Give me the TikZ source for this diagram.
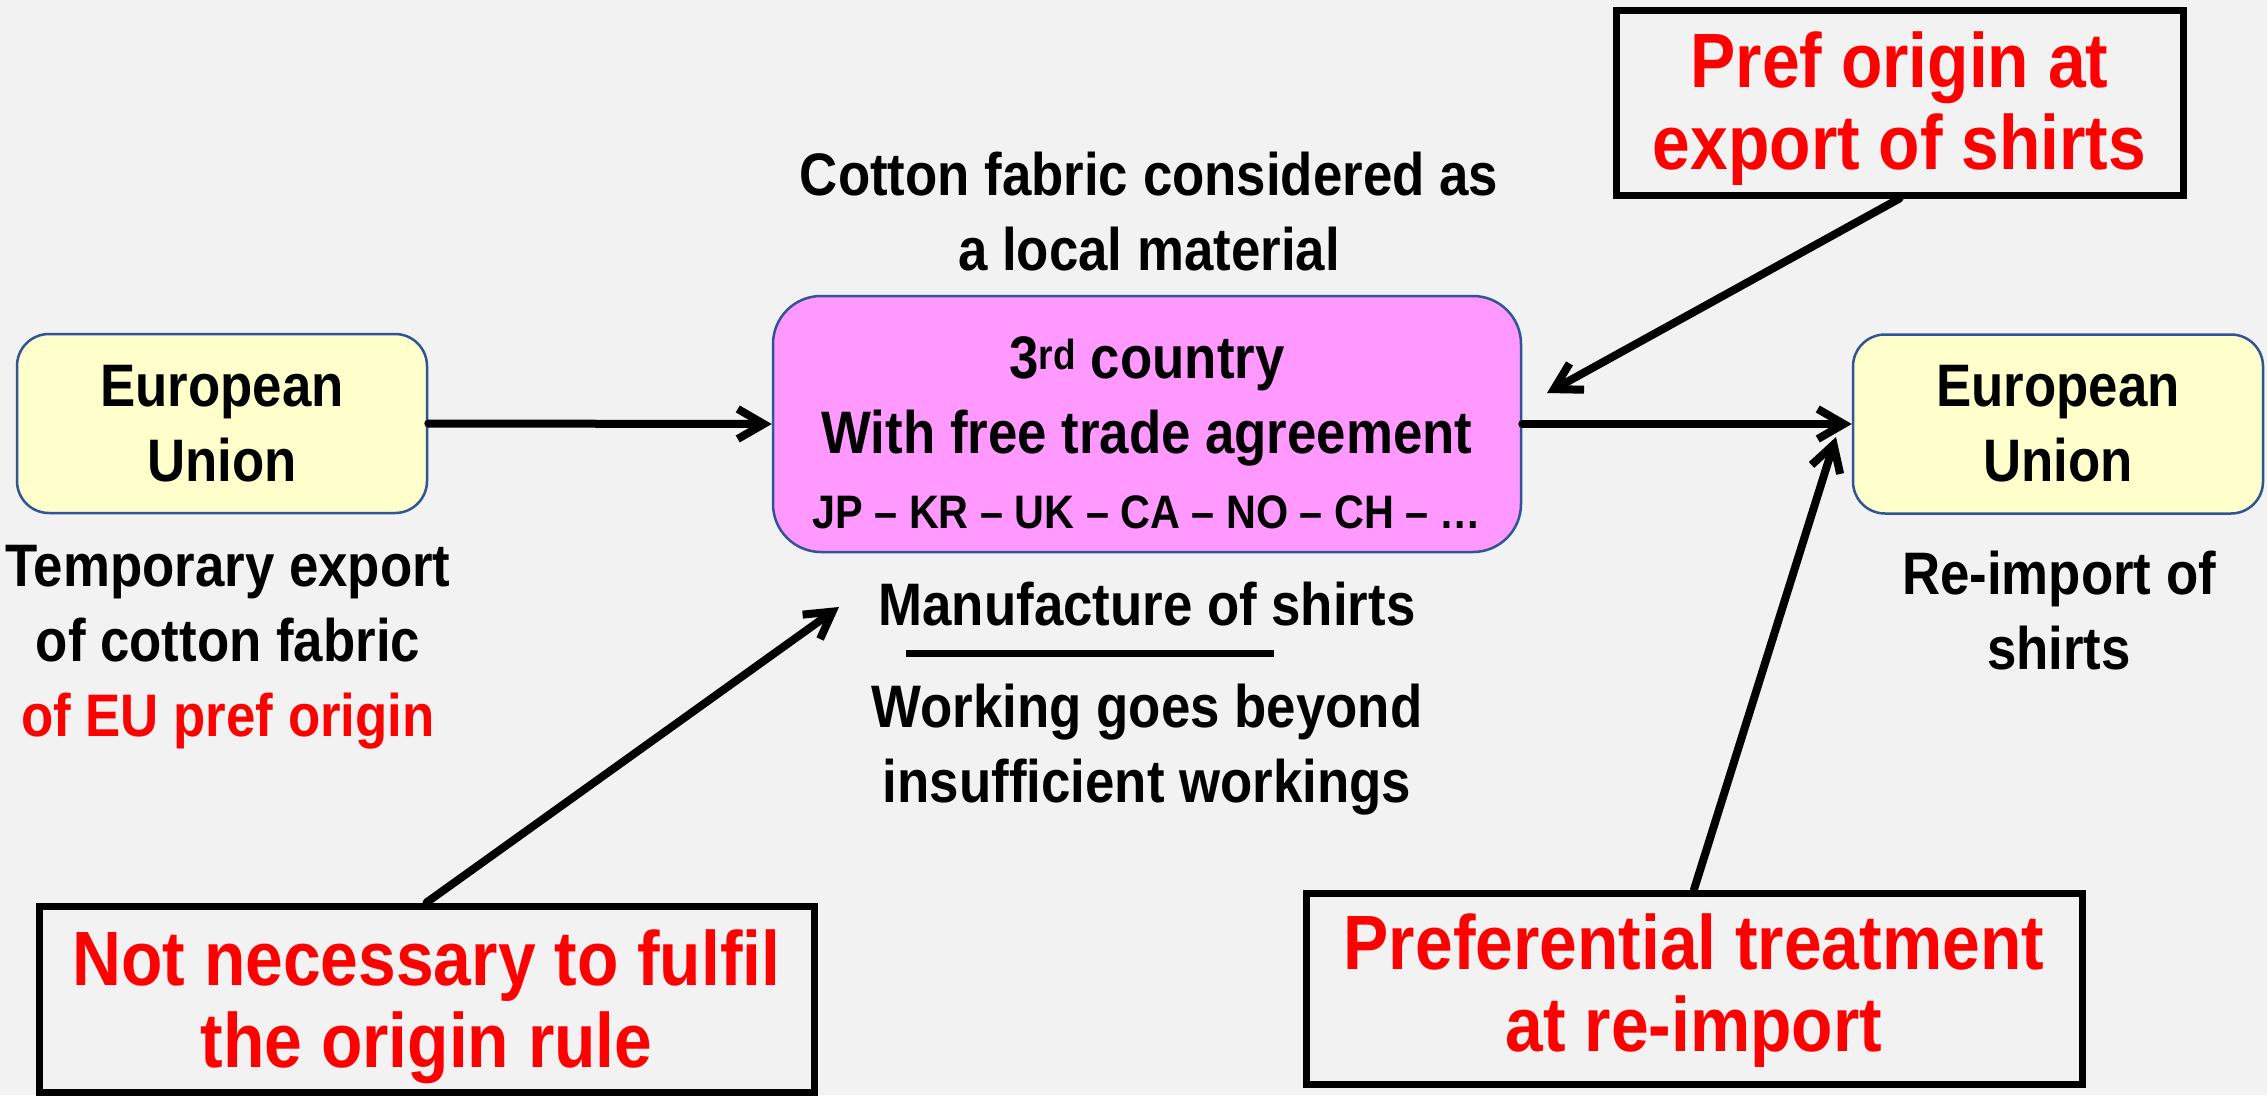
\documentclass[tikz,border=0pt]{standalone}
\usepackage{fontspec}
\setmainfont{Liberation Sans}[FakeStretch=0.88,BoldFont={* Bold}]
\usetikzlibrary{arrows.meta}
\definecolor{bg}{HTML}{F2F2F2}
\definecolor{yel}{HTML}{FFFFCC}
\definecolor{pnk}{HTML}{FF99FF}
\definecolor{bord}{HTML}{2F5597}
\definecolor{rd}{HTML}{FF0000}
\begin{document}
\begin{tikzpicture}[x=1pt,y=-1pt,
  every node/.style={font=\bfseries\fontsize{60}{75}\selectfont, align=center, inner sep=0pt},
  eubox/.style={draw=bord, line width=2.5pt, fill=yel, rounded corners=32pt, minimum width=410pt, minimum height=179pt},
  countrybox/.style={draw=bord, line width=2.5pt, fill=pnk, rounded corners=48pt, minimum width=748pt, minimum height=256pt},
  notebox/.style={draw=black, line width=7pt},
  redtext/.style={text=rd, font=\bfseries\fontsize{77}{82}\selectfont},
  conn/.style={line width=8pt, -{Straight Barb[length=26pt,width=30pt,line width=8pt]}, line cap=round}
]
\useasboundingbox[fill=bg] (0,0) rectangle (2267,1095);

% boxes
\node[eubox] (eu1) at (222,423.5) {European\\Union};
\node[countrybox] (third) at (1147,424) {};
\node (thirdtext) at (1147,433) {3\textsuperscript{rd} country\\With free trade agreement\\{\fontsize{47}{66}\selectfont JP -- KR -- UK -- CA -- NO -- CH -- \dots}};
\node[eubox] (eu2) at (2058,424) {European\\Union};

\node[notebox, minimum width=567pt, minimum height=185pt] (prefbox) at (1899.5,102.5) {};
\node[redtext] (preftext) at (1899.5,109) {Pref origin at\\export of shirts};
\node[notebox, minimum width=775pt, minimum height=186pt] (notbox) at (426.5,999) {};
\node[redtext] (nottext) at (426.5,1007) {Not necessary to fulfil\\the origin rule};
\node[notebox, minimum width=776pt, minimum height=191pt] (treat) at (1694,988.5) {};
\node[redtext] (treattext) at (1694,991) {Preferential treatment\\at re-import};

% labels
\node (local) at (1149,212) {Cotton fabric considered as\\a local material};
\node (temp) at (228,647) {Temporary export\\of cotton fabric\\\textcolor{rd}{of EU pref origin}};
\node (reimp) at (2059,611) {Re-import of\\shirts};
\node (manu) at (1147,604) {Manufacture of shirts};
\node (work) at (1147,750) {Working goes beyond\\insufficient workings};
\draw[line width=7pt] (906,653) -- (1274,653);

% free ends
\coordinate (t3) at (1547,393);
\coordinate (t4) at (839,607);
\coordinate (t5) at (1836,437);

% connectors
\draw[conn] (eu1.east) -- (third.west);
\draw[conn] (third.east) -- (eu2.west);
\draw[conn] (prefbox.south) -- (t3);
\draw[conn] (notbox.north) -- (t4);
\draw[conn] (treat.north) -- (t5);
\end{tikzpicture}
\end{document}
